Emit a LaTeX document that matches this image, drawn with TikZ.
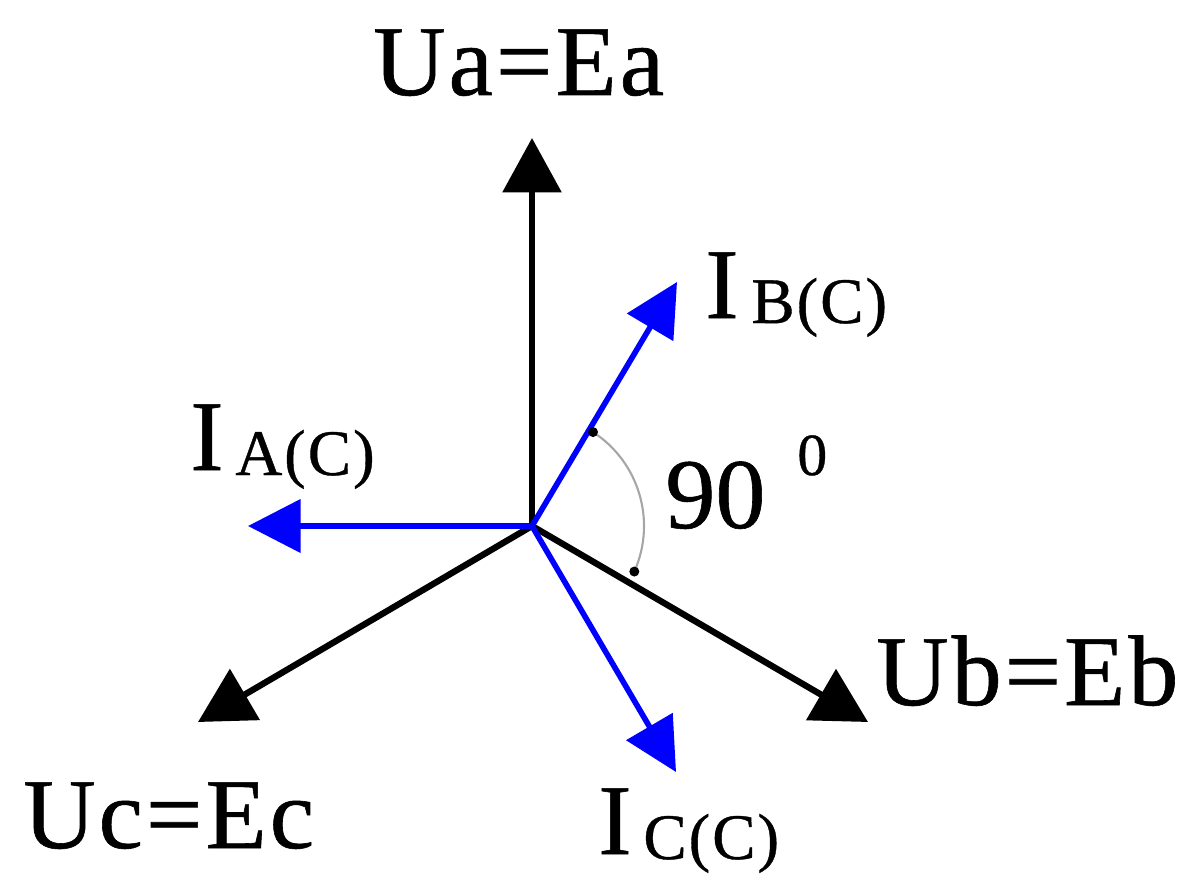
\documentclass[tikz,border=0pt]{standalone}
\usepackage{fontspec}
\setmainfont{Liberation Serif}
\usetikzlibrary{arrows.meta}
\newfontfamily\lblfont[LetterSpace=3,FakeBold=0.6]{Liberation Serif}
\newfontfamily\plainfont[FakeBold=0.6]{Liberation Serif}
\begin{document}
\begin{tikzpicture}[x=0.02cm,y=-0.02cm,
  volt/.style={line width=3.6pt,black,-{Triangle[length=31pt,width=33pt]}},
  curr/.style={line width=3.2pt,blue,-{Triangle[length=30pt,width=30pt]}},
  biglbl/.style={inner sep=0pt,anchor=base west,font=\lblfont\fontsize{57}{64}\selectfont},
  ilbl/.style={inner sep=0pt,anchor=base west,font=\plainfont\fontsize{57}{64}\selectfont},
  sublbl/.style={inner sep=0pt,anchor=base west,font=\lblfont\fontsize{37}{42}\selectfont},
  suplbl/.style={inner sep=0pt,anchor=base west,font=\plainfont\fontsize{34}{40}\selectfont},
  angarc/.style={line width=1.2pt,gray!70},
  tick/.style={fill=black,draw=none}]
\useasboundingbox (0,0) rectangle (1192,878);
\coordinate (O) at (532,526);
\coordinate (Ua) at (532,138);
\coordinate (Ub) at (868,722);
\coordinate (Uc) at (198,722);
\coordinate (Ia) at (248,526);
\coordinate (Ib) at (677,282);
\coordinate (Ic) at (676,772);
\draw[volt] (O) -- (Ua);
\draw[volt] (O) -- (Ub);
\draw[volt] (O) -- (Uc);
\draw[curr] (O) -- (Ia);
\draw[curr] (O) -- (Ib);
\draw[curr] (O) -- (Ic);
% angle arc (y axis points down, so angles are mirrored)
\draw[angarc] (O) ++(-57:112) arc[start angle=-57,end angle=24,radius=112];
\fill[tick] (O) ++(-57:112) circle[radius=5];
\fill[tick] (O) ++(24:112) circle[radius=5];
% labels
\node[biglbl] (LUa) at (373,95) {Ua=Ea};
\node[biglbl] (LUb) at (876,705) {Ub=Eb};
\node[biglbl] (LUc) at (23,848) {Uc=Ec};
\node[ilbl] (LIb) at (705,318) {I};
\node[sublbl] (LIbs) at (751,323) {B(C)};
\node[ilbl] (LIa) at (190,470) {I};
\node[sublbl] (LIas) at (235,475) {A(C)};
\node[ilbl] (LIc) at (598,854) {I};
\node[sublbl] (LIcs) at (643,859) {C(C)};
\node[ilbl] (L90) at (665,528) {90};
\node[suplbl] (Lsup) at (797,475) {0};
\end{tikzpicture}
\end{document}
